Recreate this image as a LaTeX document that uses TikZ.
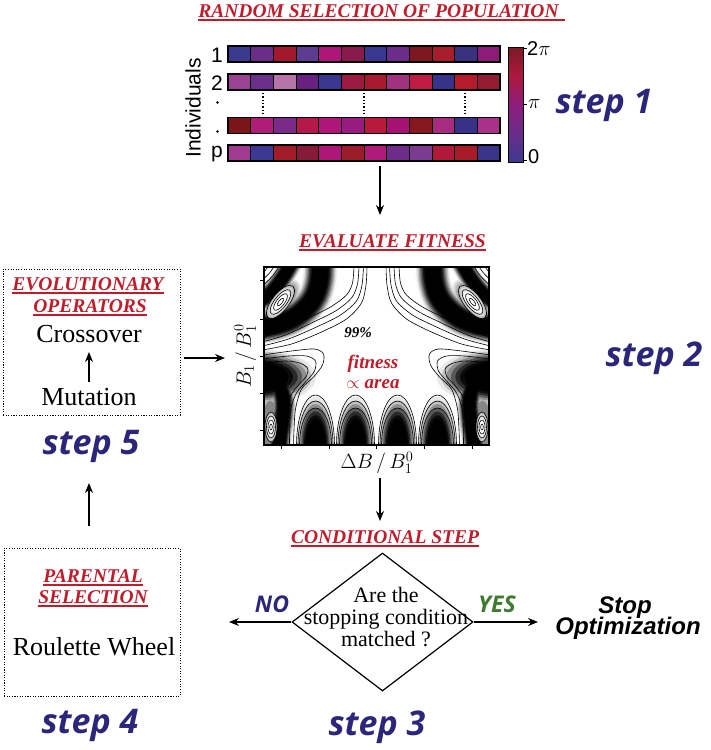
\documentclass[tikz,border=0pt]{standalone}
\usepackage{fontspec}
\setmainfont{Liberation Serif}
\newfontfamily\sansf{Liberation Sans}
\newfontfamily\stepf{Open Sans}
\usetikzlibrary{arrows.meta,shapes.geometric}

\definecolor{ttlred}{RGB}{192,28,42}
\definecolor{stepblue}{RGB}{43,38,122}
\definecolor{yesgreen}{RGB}{62,122,48}
\definecolor{cbA}{HTML}{3B3A8F}
\definecolor{cbB}{HTML}{6A2C8A}
\definecolor{cbC}{HTML}{8E1E7C}
\definecolor{cbD}{HTML}{AE173E}
\definecolor{cbE}{HTML}{7A1A24}
\pgfdeclareverticalshading{cbar}{100bp}{color(0bp)=(cbA); color(25bp)=(cbA); color(37.5bp)=(cbB); color(50bp)=(cbC); color(62.5bp)=(cbD); color(75bp)=(cbE); color(100bp)=(cbE)}

\newcommand\setfs[1]{\fontsize{#1}{#1}\selectfont}

\tikzset{
  ttl/.style={font=\setfs{19.5}\bfseries\itshape, text=ttlred, inner sep=0pt, anchor=base},
  steplbl/.style={font=\stepf\setfs{34}\bfseries\itshape, text=stepblue, inner sep=0pt, anchor=base},
  arr/.style={-{Stealth[length=10pt,width=8pt]}, line width=1.2pt},
  dotbox/.style={draw, dash pattern=on 1.1pt off 1.5pt, line width=1pt},
  cl/.style={line width=0.6pt, black},
  ulin/.style={ttlred, line width=1.4pt},
  rowdot/.style={circle, fill, inner sep=0pt, minimum size=2.8pt},
}

% dark band: layered strokes, sin^2 profile
\newcommand\darkband[2]{%
  \foreach \k in {1,...,13}{%
    \pgfmathsetmacro\lw{#1*(1-(\k-1)/13)}%
    \pgfmathsetmacro\gv{100*(sin(90*min(1,(\k-0.5)/8)))^2}%
    \draw[line width=\lw pt, black!\gv] plot[smooth, tension=0.6] coordinates {#2};%
  }}
% dark blob: layered ellipses (cx, cy, rx, ry)
\newcommand\darkblob[4]{%
  \foreach \k in {1,...,14}{%
    \pgfmathsetmacro\fr{1-(\k-1)/14}%
    \pgfmathsetmacro\gv{100*(sin(90*min(1,(\k-0.5)/7.5)))^2}%
    \fill[black!\gv] (#1,#2) ellipse [x radius=#3*\fr, y radius=#4*\fr];%
  }}
\newcommand\lobelines[1]{%
  \foreach \ar/\hr in {19/50,17.5/44,16/37}{%
    \draw[cl] (#1-\ar,-1) -- (#1-\ar,0) arc[start angle=180, end angle=0, x radius=\ar, y radius=\hr] -- (#1+\ar,-1);}}

\newcommand\halfdark{%
  \darkband{36}{(-56,192) (-57,165) (-64,145) (-80,129) (-98,121) (-124,116)}%
  \darkband{24}{(-80,192) (-92,170) (-106,152) (-124,139)}%
  \foreach \rx/\ry/\gv in {27/14/10,25/12.5/20,23/11/30,21/10/40}{%
    \fill[black!\gv] (-96,143) ellipse [x radius=\rx, y radius=\ry, rotate=52];}%
  \darkblob{-120}{68}{64}{30}%
  \darkband{26}{(-99,66) (-93,45) (-94,25) (-97,5) (-98,-12)}%
  \foreach \rx/\ry/\gv in {11/32/15,10/30/30,9/28/48}{%
    \fill[black!\gv] (-106,16) ellipse [x radius=\rx, y radius=\ry];}%
  \darkblob{-61}{0}{20}{52}%
  \darkblob{-21}{0}{20}{52}%
}
\newcommand\halflight{%
  \foreach \rx/\ry/\gv in {20/8.5/25,17.5/7.2/16,15/6/9,12.5/5/4,10/4/0}{%
    \fill[black!\gv] (-96,143) ellipse [x radius=\rx, y radius=\ry, rotate=52];}%
  \foreach \rx/\ry/\gv in {6/15/28,5.2/13/18,4.5/11/10,3.7/9/4,3/7/0}{%
    \fill[black!\gv] (-105.5,18) ellipse [x radius=\rx, y radius=\ry];}%
}
\newcommand\halflines{%
  \foreach \rx/\ry in {20/8.5,15/6,10/4,4.5/1.8}{\draw[cl] (-96,143) ellipse [x radius=\rx, y radius=\ry, rotate=52];}%
  \foreach \rx/\ry in {6/15,4.5/11,3/7,1.3/3}{\draw[cl] (-105.5,18) ellipse [x radius=\rx, y radius=\ry];}%
  \draw[cl] plot[smooth] coordinates {(-108,179) (-110.5,175.5) (-114,171)};%
  \draw[cl] plot[smooth] coordinates {(-102,179) (-107,172) (-114,165)};%
  \draw[cl] plot[smooth] coordinates {(-97,179) (-104,169) (-114,159)};%
  \draw[cl] plot[smooth] coordinates {(-9.5,179) (-10.5,160) (-15,142) (-30,126) (-55,113) (-85,101) (-114,95)};%
  \draw[cl] plot[smooth] coordinates {(-13,179) (-14.5,160) (-20,144) (-36,130) (-60,118) (-88,106) (-114,99)};%
  \draw[cl] plot[smooth] coordinates {(-17.5,179) (-19,161) (-25,147) (-41,134) (-65,122) (-91,110) (-114,103)};%
  \draw[cl] plot[smooth] coordinates {(-22.5,179) (-24,162) (-30,150) (-46,138) (-70,126) (-94,114) (-114,108)};%
  \draw[cl] plot[smooth] coordinates {(-114,90) (-85,94) (-62,96) (-53,91) (-54,80) (-63,68) (-75,56) (-81,36) (-82.5,15) (-83,-1)};%
  \draw[cl] plot[smooth] coordinates {(-114,86) (-88,89) (-70,89) (-61,84) (-62,74) (-70,64) (-80,52) (-86,34) (-87,-1)};%
  \draw[cl] plot[smooth] coordinates {(-114,82) (-90,84) (-77,82) (-69,77) (-70,69) (-77,61) (-86,49) (-90,30) (-91,-1)};%
  \lobelines{-61}\lobelines{-21}%
}

\begin{document}
\begin{tikzpicture}[x=1pt, y=-1pt]
\useasboundingbox (0,0) rectangle (711,750);

% ---------- step 1: population ----------
\node[ttl] (t1) at (378.5,17) {RANDOM SELECTION OF POPULATION};
\draw[ulin] ([yshift=-3pt]t1.base west) -- ([yshift=-3pt,xshift=6pt]t1.base east);

\foreach \yy/\cols in {46/{3B3A8E,6A2D88,A3182C,5E3C92,B0157A,8B1A4C,3A3790,6C2C89,7E1820,A81C2C,3A317F,8D1C79},
                       74/{9C4294,6B3089,B873A9,6A2081,3B3690,9C1A42,A91A31,A0327F,C01C44,37338B,B51B2B,941C32},
                       117.5/{7B1519,B01D79,7A2B89,B5194C,B01579,981B81,B8193D,A61172,85171F,A92B81,383089,A93189},
                       145/{A03B91,3D3891,A11B29,861B39,AD1676,9B1D2B,B01B79,6F2B89,7B3B91,B01939,A91B29,3B3589}}{%
  \foreach \col [count=\i from 0] in \cols {%
    \edef\tmp{\noexpand\definecolor{cellc}{HTML}{\col}}\tmp
    \fill[cellc] (228+\i*22.667,\yy) rectangle ++(22.667,16);
    \draw[line width=0.9pt] (228+\i*22.667,\yy) rectangle ++(22.667,16);
  }
  \draw[line width=1.6pt] (228,\yy) rectangle (500,\yy+16);
}
\foreach \xx in {263,364,465}{\draw[dotted, line width=1.3pt] (\xx,93) -- (\xx,113);}

\node[font=\sansf\setfs{21}, inner sep=0pt, anchor=base] (r1) at (217,62) {1};
\node[font=\sansf\setfs{21}, inner sep=0pt, anchor=base] (r2) at (217,90) {2};
\node[rowdot] (r3) at (217.5,102.5) {};
\node[rowdot] (r4) at (217.5,131.5) {};
\node[font=\sansf\setfs{21}, inner sep=0pt, anchor=base] (rp) at (217,157) {p};
\node[font=\sansf\setfs{21}, inner sep=0pt, rotate=90] (ind) at (193,108) {Individuals};

\shade[shading=cbar] (508,47) rectangle (523,162);
\draw[line width=0.8pt] (508,47) rectangle (523,162);
\foreach \yy in {48,104,160}{\draw[line width=0.8pt] (523,\yy) -- (527,\yy);}
\node[font=\sansf\setfs{20}, inner sep=0pt, anchor=base west] (cbtop) at (527,55) {2$\pi$};
\node[font=\sansf\setfs{20}, inner sep=0pt, anchor=base west] (cbmid) at (528,108) {$\pi$};
\node[font=\sansf\setfs{20}, inner sep=0pt, anchor=base west] (cbbot) at (528,163) {0};
\node[steplbl] (s1) at (604,113) {step 1};

\coordinate (a1s) at (380,166);
\coordinate (a1e) at (380,215);
\draw[arr] (a1s) -- (a1e);

% ---------- step 2: fitness ----------
\node[ttl] (t2) at (392.5,247) {EVALUATE FITNESS};
\draw[ulin] ([yshift=-3pt]t2.base west) -- ([yshift=-3pt]t2.base east);

\begin{scope}[shift={(376.5,445)}, x=1pt, y=1pt]
  \begin{scope}
    \clip (-112.5,0) rectangle (112.5,178);
    \fill[white] (-112.5,0) rectangle (112.5,178);
    \begin{scope}[blend mode=darken]
      \foreach \s in {1,-1}{\begin{scope}[xscale=\s]\halfdark\end{scope}}
    \end{scope}
    \foreach \s in {1,-1}{\begin{scope}[xscale=\s]\halflight\halflines\end{scope}}
  \end{scope}
  \draw[line width=1.2pt] (-112.5,0) rectangle (112.5,178);
  \foreach \vv in {165,126,89,52,15}{\draw[line width=1pt] (-112.5,\vv) -- (-116.5,\vv);}
  \foreach \uu in {-95.5,-47.5,0,47.5,95.5}{\draw[line width=1pt] (\uu,0) -- (\uu,-4);}
\end{scope}
\node[font=\setfs{15}\bfseries\itshape, inner sep=0pt, anchor=base] (p99) at (358,337) {99\%};
\node[font=\setfs{19}\bfseries\itshape, text=ttlred, inner sep=0pt, anchor=base] (fit) at (373,368) {fitness};
\node[font=\setfs{19}\bfseries\itshape, text=ttlred, inner sep=0pt, anchor=base] (area) at (373,388) {$\propto$ area};
\node[font=\setfs{21}, inner sep=0pt, rotate=90] (ylab) at (245,356) {$B_1\,/\,B_1^0$};
\node[font=\setfs{20}, inner sep=0pt] (xlab) at (377,463) {$\Delta B\,/\,B_1^0$};
\node[steplbl] (s2) at (654,366) {step 2};

\coordinate (a2s) at (380,478);
\coordinate (a2e) at (380,521);
\draw[arr] (a2s) -- (a2e);

% ---------- step 3: condition ----------
\node[ttl] (t3) at (385,543) {CONDITIONAL STEP};
\draw[ulin] ([yshift=-3pt]t3.base west) -- ([yshift=-3pt]t3.base east);
\node[diamond, draw, line width=1.2pt, minimum width=181pt, minimum height=138pt, inner sep=0pt] (dia) at (382.5,622) {};
\node[font=\setfs{22}, align=center, inner sep=0pt] (q) at (386,617.5) {Are the\\stopping condition\\matched ?};
\coordinate (noend) at (229,622);
\coordinate (yesend) at (538,622);
\draw[arr] (dia.west) -- (noend);
\draw[arr] (dia.east) -- (yesend);
\node[font=\stepf\setfs{23}\bfseries\itshape, text=stepblue, inner sep=0pt, anchor=base] (no) at (272,612) {NO};
\node[font=\stepf\setfs{23}\bfseries\itshape, text=yesgreen, inner sep=0pt, anchor=base] (yes) at (497,612) {YES};
\node[font=\sansf\setfs{24}\bfseries\itshape, inner sep=0pt, anchor=base] (stop) at (625,613) {Stop};
\node[font=\sansf\setfs{24}\bfseries\itshape, inner sep=0pt, anchor=base] (opt) at (628,634) {Optimization};
\node[steplbl] (s3) at (377,735) {step 3};

% ---------- step 4: parental selection ----------
\node[dotbox, minimum width=176pt, minimum height=148pt, inner sep=0pt] (par) at (92,622) {};
\node[ttl] (t5a) at (93,582) {PARENTAL};
\draw[ulin] ([yshift=-3pt]t5a.base west) -- ([yshift=-3pt]t5a.base east);
\node[ttl] (t5b) at (93,603) {SELECTION};
\draw[ulin] ([yshift=-3pt]t5b.base west) -- ([yshift=-3pt]t5b.base east);
\node[font=\setfs{26}, inner sep=0pt, anchor=base] (rw) at (94,655) {Roulette Wheel};
\node[steplbl] (s4) at (90,733) {step 4};
\coordinate (a4s) at (89,526);
\coordinate (a4e) at (89,483);
\draw[arr] (a4s) -- (a4e);

% ---------- step 5: evolutionary operators ----------
\node[dotbox, minimum width=177pt, minimum height=146pt, inner sep=0pt] (evo) at (91.5,342) {};
\node[ttl] (t4a) at (88,290) {EVOLUTIONARY};
\draw[ulin] ([yshift=-3pt]t4a.base west) -- ([yshift=-3pt]t4a.base east);
\node[ttl] (t4b) at (90,312) {OPERATORS};
\draw[ulin] ([yshift=-3pt]t4b.base west) -- ([yshift=-3pt]t4b.base east);
\node[font=\setfs{26}, inner sep=0pt, anchor=base] (cro) at (89,342) {Crossover};
\node[font=\setfs{26}, inner sep=0pt, anchor=base] (mut) at (89,405) {Mutation};
\coordinate (a5s) at (89,382);
\coordinate (a5e) at (89,352);
\draw[arr] (a5s) -- (a5e);
\node[steplbl] (s5) at (91,454) {step 5};
\coordinate (a6s) at (184,358);
\coordinate (a6e) at (225,358);
\draw[arr] (a6s) -- (a6e);
\end{tikzpicture}
\end{document}
